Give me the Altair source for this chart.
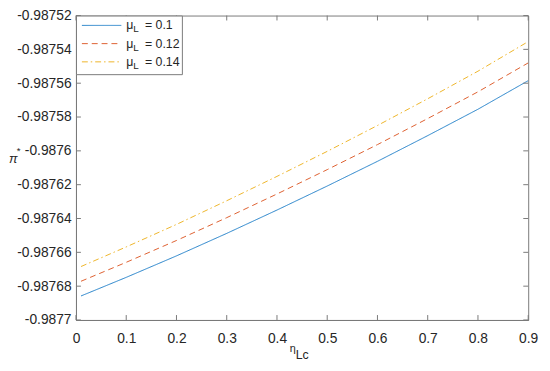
import altair as alt
import pandas as pd

# ---------------- data ----------------
eta = [0.01, 0.1, 0.2, 0.3, 0.4, 0.5, 0.6, 0.7, 0.8, 0.9]
pi_mu010 = [-0.9876858, -0.9876748, -0.9876621, -0.9876488, -0.9876350,
            -0.9876208, -0.9876062, -0.9875910, -0.9875754, -0.9875585]
pi_mu012 = [-0.9876771, -0.9876659, -0.9876530, -0.9876395, -0.9876255,
            -0.9876111, -0.9875963, -0.9875809, -0.9875651, -0.9875480]
pi_mu014 = [-0.9876684, -0.9876568, -0.9876435, -0.9876295, -0.9876151,
            -0.9876003, -0.9875850, -0.9875692, -0.9875529, -0.9875354]
series_names = ["0.1", "0.12", "0.14"]
x_ticks = [0, 0.1, 0.2, 0.3, 0.4, 0.5, 0.6, 0.7, 0.8, 0.9]
y_ticks = [-0.9877, -0.98768, -0.98766, -0.98764, -0.98762, -0.9876,
           -0.98758, -0.98756, -0.98754, -0.98752]

colors = ["#1f7fc8", "#dd6030", "#eeb52a"]
dashes = [[1, 0], [6, 4], [6, 3, 1.5, 3]]

rows = []
for name, vals in zip(series_names, [pi_mu010, pi_mu012, pi_mu014]):
    for e, v in zip(eta, vals):
        rows.append({"eta": e, "pi": v, "series": name})
df = pd.DataFrame(rows)

TOP = 13          # page y of plot top
LEFT = 77         # page x of plot left
W, H = 459, 322 - TOP
GREY = "#7a7a7a"
FONT = "Liberation Sans"
TXT = "#262626"

xscale = alt.Scale(domain=[0, 0.9], nice=False, zero=False)
yscale = alt.Scale(domain=[-0.9877, -0.98752], nice=False, zero=False)
xaxis = alt.Axis(values=x_ticks, format="~g", ticks=False, grid=False,
                 labelPadding=12, domainColor=GREY, labelColor=TXT,
                 labelFontSize=14, labelFont=FONT, title=None, labelFlush=False)
yaxis = alt.Axis(values=y_ticks, ticks=False, grid=False, labelPadding=5,
                 labelExpr="'-' + format(abs(datum.value), '~g')",
                 domainColor=GREY, labelColor=TXT, labelFontSize=14,
                 labelFont=FONT, title=None)

X = alt.X("eta:Q", scale=xscale, axis=xaxis)
Y = alt.Y("pi:Q", scale=yscale, axis=yaxis)

lines = alt.Chart(df).mark_line(strokeWidth=1, clip=True).encode(
    x=X, y=Y,
    color=alt.Color("series:N", scale=alt.Scale(domain=series_names, range=colors), legend=None),
    strokeDash=alt.StrokeDash("series:N", scale=alt.Scale(domain=series_names, range=dashes), legend=None),
)

xt = pd.DataFrame({"eta": x_ticks})
yt = pd.DataFrame({"pi": y_ticks})
tick_bot = alt.Chart(xt).mark_rule(color=GREY, strokeWidth=1).encode(
    x=X, y=alt.value(H), y2=alt.value(H - 5))
tick_top = alt.Chart(xt).mark_rule(color=GREY, strokeWidth=1).encode(
    x=X, y=alt.value(0), y2=alt.value(5))
tick_left = alt.Chart(yt).mark_rule(color=GREY, strokeWidth=1).encode(
    y=Y, x=alt.value(0), x2=alt.value(5))
tick_right = alt.Chart(yt).mark_rule(color=GREY, strokeWidth=1).encode(
    y=Y, x=alt.value(W), x2=alt.value(W - 5))

one = pd.DataFrame({"a": [0]})

# legend
legend_layers = [
    alt.Chart(one).mark_rect(fill="white", stroke=GREY, strokeWidth=1).encode(
        x=alt.value(0.5), x2=alt.value(108), y=alt.value(0.5), y2=alt.value(60))
]
row_y = [10, 28.5, 47]
for i, name in enumerate(series_names):
    legend_layers.append(
        alt.Chart(one).mark_rule(color=colors[i], strokeWidth=1, strokeDash=dashes[i]).encode(
            x=alt.value(6), x2=alt.value(46), y=alt.value(row_y[i])))
    legend_layers.append(
        alt.Chart(one).mark_text(text="μ", align="left", baseline="middle",
                                 fontSize=12.5, font=FONT, color=TXT).encode(
            x=alt.value(51), y=alt.value(row_y[i])))
    legend_layers.append(
        alt.Chart(one).mark_text(text="L", align="left", baseline="middle",
                                 fontSize=10, font=FONT, color=TXT).encode(
            x=alt.value(58), y=alt.value(row_y[i] + 4)))
    legend_layers.append(
        alt.Chart(one).mark_text(text="= " + name, align="left", baseline="middle",
                                 fontSize=12.5, font=FONT, color=TXT).encode(
            x=alt.value(70), y=alt.value(row_y[i])))

# axis titles
titles = [
    alt.Chart(one).mark_text(text="η", align="left", baseline="middle",
                             fontSize=11, font=FONT, color=TXT).encode(
        x=alt.value(294 - LEFT), y=alt.value(351 - TOP)),
    alt.Chart(one).mark_text(text="Lc", align="left", baseline="middle",
                             fontSize=12.5, font=FONT, color=TXT).encode(
        x=alt.value(300 - LEFT), y=alt.value(358 - TOP)),
    alt.Chart(one).mark_text(text="π", align="left", baseline="middle",
                             fontSize=13, font=FONT, fontStyle="italic", color=TXT).encode(
        x=alt.value(9 - LEFT), y=alt.value(159 - TOP)),
    alt.Chart(one).mark_text(text="*", align="left", baseline="middle",
                             fontSize=10, font=FONT, color=TXT).encode(
        x=alt.value(17 - LEFT), y=alt.value(151 - TOP)),
]

chart = alt.layer(
    lines, tick_bot, tick_top, tick_left, tick_right, *legend_layers, *titles
).properties(
    width=W, height=H,
    autosize=alt.AutoSizeParams(type="none"),
    padding={"left": LEFT - 8, "top": TOP - 8, "right": 14, "bottom": 41},
    background="white",
).configure_view(stroke=GREY, strokeWidth=1)

chart.save("out.html", embed_options={"renderer": "svg", "actions": False})
